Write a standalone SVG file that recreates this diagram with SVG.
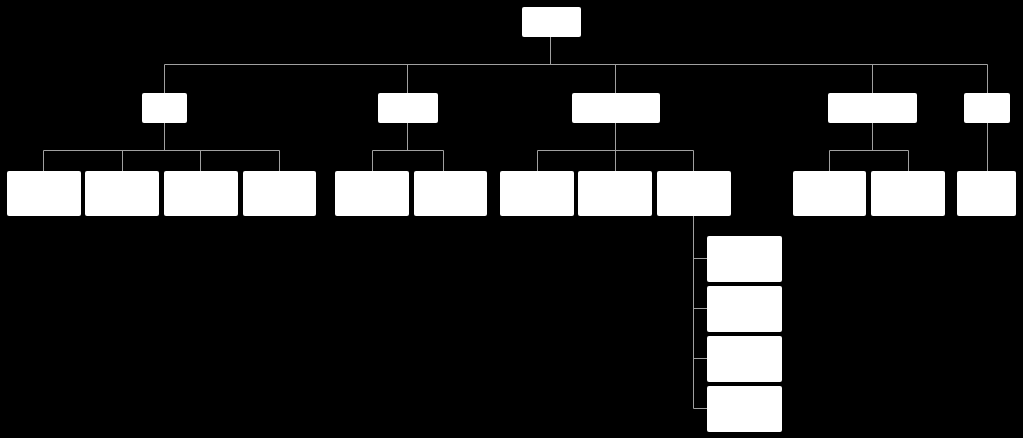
<svg xmlns="http://www.w3.org/2000/svg" width="1023" height="438" viewBox="0 0 1023 438">
<style>
.n{fill:#ffffff;stroke:none}
.c{stroke:#a0a0a0;stroke-width:1;fill:none}
</style>
<rect x="0" y="0" width="1023" height="438" fill="#000000"/>
<g id="connectors">
<path class="c" d="M550.5 37V64.5M164.5 64.5H987.5M164.5 64.5V93M407.5 64.5V93M615.5 64.5V93M872.5 64.5V93M987.5 64.5V93"/>
<path class="c" d="M164.5 123V150.5M43.5 150.5H279.5M43.5 150.5V171M122.5 150.5V171M200.5 150.5V171M279.5 150.5V171"/>
<path class="c" d="M407.5 123V150.5M372.5 150.5H443.5M372.5 150.5V171M443.5 150.5V171"/>
<path class="c" d="M615.5 123V150.5M537.5 150.5H693.5M537.5 150.5V171M615.5 150.5V171M693.5 150.5V171"/>
<path class="c" d="M872.5 123V150.5M829.5 150.5H908.5M829.5 150.5V171M908.5 150.5V171"/>
<path class="c" d="M987.5 123V171"/>
<path class="c" d="M693.5 216V408.5M693.5 258.5H707M693.5 308.5H707M693.5 358.5H707M693.5 408.5H707"/>
</g>
<g id="root"><rect class="n" x="522" y="7" width="59" height="30" rx="2"/></g>
<g id="a"><rect class="n" x="142" y="93" width="45" height="30" rx="2"/></g>
<g id="b"><rect class="n" x="378" y="93" width="60" height="30" rx="2"/></g>
<g id="c"><rect class="n" x="572" y="93" width="88" height="30" rx="2"/></g>
<g id="d"><rect class="n" x="828" y="93" width="89" height="30" rx="2"/></g>
<g id="e"><rect class="n" x="964" y="93" width="46" height="30" rx="2"/></g>
<g id="a1"><rect class="n" x="7" y="171" width="74" height="45" rx="2"/></g>
<g id="a2"><rect class="n" x="85" y="171" width="74" height="45" rx="2"/></g>
<g id="a3"><rect class="n" x="164" y="171" width="74" height="45" rx="2"/></g>
<g id="a4"><rect class="n" x="243" y="171" width="73" height="45" rx="2"/></g>
<g id="b1"><rect class="n" x="335" y="171" width="74" height="45" rx="2"/></g>
<g id="b2"><rect class="n" x="414" y="171" width="73" height="45" rx="2"/></g>
<g id="c1"><rect class="n" x="500" y="171" width="74" height="45" rx="2"/></g>
<g id="c2"><rect class="n" x="578" y="171" width="74" height="45" rx="2"/></g>
<g id="c3"><rect class="n" x="657" y="171" width="74" height="45" rx="2"/></g>
<g id="d1"><rect class="n" x="793" y="171" width="73" height="45" rx="2"/></g>
<g id="d2"><rect class="n" x="871" y="171" width="74" height="45" rx="2"/></g>
<g id="e1"><rect class="n" x="957" y="171" width="59" height="45" rx="2"/></g>
<g id="c3a"><rect class="n" x="707" y="236" width="75" height="46" rx="2"/></g>
<g id="c3b"><rect class="n" x="707" y="286" width="75" height="46" rx="2"/></g>
<g id="c3c"><rect class="n" x="707" y="336" width="75" height="46" rx="2"/></g>
<g id="c3d"><rect class="n" x="707" y="386" width="75" height="46" rx="2"/></g>
</svg>
